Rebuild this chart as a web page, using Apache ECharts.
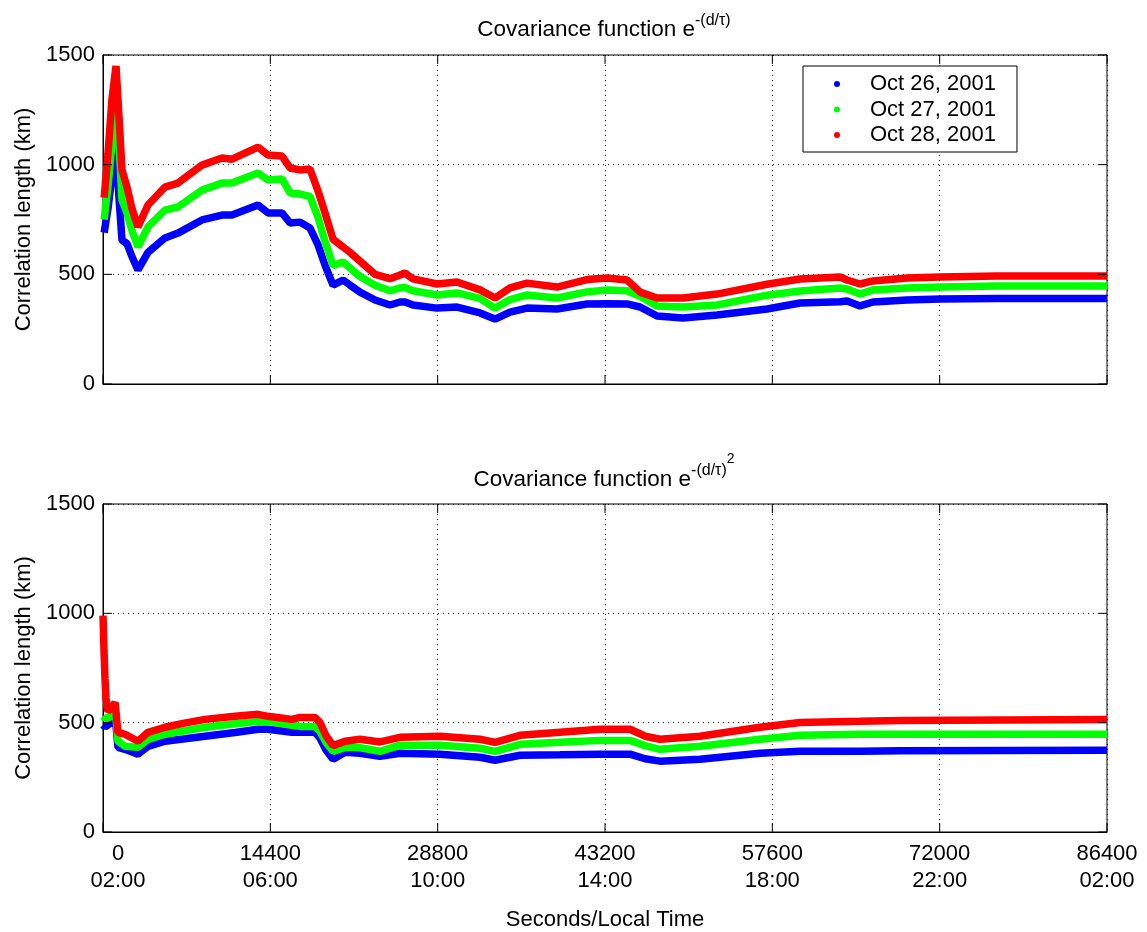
<!DOCTYPE html>
<html>
<head>
<meta charset="utf-8">
<script src="https://cdn.jsdelivr.net/npm/echarts@6/dist/echarts.min.js"></script>
<style>
  html, body { margin: 0; padding: 0; background: #fff; }
  #chart { width: 1147px; height: 932px; }
</style>
</head>
<body>
<div id="chart"></div>
<script>
// Legend names
const seriesNames = ['Oct 26, 2001', 'Oct 27, 2001', 'Oct 28, 2001'];
const seriesColors = ['#0000ff', '#00ff00', '#ff0000'];

// X tick labels: seconds and local time
const secTicks = ['0', '14400', '28800', '43200', '57600', '72000', '86400'];
const timeTicks = ['02:00', '06:00', '10:00', '14:00', '18:00', '22:00', '02:00'];
const xTickValues = [0, 14400, 28800, 43200, 57600, 72000, 86400];
const yTickValues = [0, 500, 1000, 1500];

// Upper panel: covariance e^-(d/tau), time in seconds
const timesExp = [100, 430, 775, 1120, 1375, 1635, 2065, 2495, 3010, 3870, 5335, 6455, 8520, 10240, 11100,
  13340, 14200, 15405, 16095, 16955, 17815, 18505, 19105, 19795, 20655, 21255, 22115, 23410, 24700, 25560,
  25990, 26680, 28745, 30465, 32445, 33735, 35025, 36490, 39070, 41650, 43375, 45095, 46215, 47680, 49915,
  52840, 57145, 59985, 63425, 64030, 65145, 66265, 69190, 72030, 76935, 86400];
const oct26Exp = [690, 800, 950, 1090, 850, 656, 640, 580, 520, 600, 666, 688, 748, 770, 770,
  816, 780, 780, 734, 738, 711, 634, 542, 451, 474, 451, 419, 383, 360, 374,
  374, 360, 346, 351, 324, 296, 328, 346, 342, 365, 366, 365, 351, 310, 301,
  315, 342, 369, 375, 378, 356, 374, 383, 387, 390, 390];
const oct27Exp = [750, 900, 1100, 1295, 1100, 839, 780, 700, 625, 716, 793, 807, 884, 916, 916,
  962, 930, 935, 871, 866, 855, 760, 650, 540, 556, 529, 490, 450, 425, 438,
  440, 425, 406, 415, 390, 346, 385, 406, 392, 420, 429, 425, 400, 356, 351,
  360, 405, 424, 438, 433, 410, 429, 438, 442, 447, 447];
const oct28Exp = [850, 1050, 1300, 1450, 1220, 976, 898, 800, 716, 816, 898, 916, 998, 1030, 1025,
  1080, 1044, 1039, 985, 976, 980, 880, 780, 660, 625, 600, 560, 500, 480, 497,
  506, 479, 456, 465, 429, 392, 438, 460, 442, 476, 483, 474, 419, 392, 392,
  410, 455, 479, 488, 474, 456, 470, 483, 488, 492, 492];

// Lower panel: covariance e^-(d/tau)^2
const timesGauss = [0, 86, 172, 258, 344, 430, 775, 1033, 1291, 1893, 3012, 3873, 5336, 6885, 8778,
  11360, 13339, 14200, 16265, 16954, 18245, 18675, 19194, 19796, 20829, 22117, 23839, 25560, 29002, 32445,
  33736, 35887, 39329, 42772, 45354, 46645, 47936, 51378, 56541, 59984, 65147, 68589, 86400];
const oct26Gauss = [490, 485, 480, 480, 480, 490, 505, 538, 387, 378, 356, 392, 415, 425, 438,
  455, 470, 470, 456, 456, 456, 430, 375, 333, 365, 360, 346, 360, 356, 342,
  328, 351, 353, 356, 356, 335, 324, 333, 360, 369, 369, 372, 374];
const oct27Gauss = [530, 525, 520, 515, 515, 520, 540, 574, 415, 392, 387, 424, 447, 462, 479,
  495, 506, 506, 488, 483, 483, 460, 410, 369, 387, 385, 369, 397, 397, 383,
  369, 401, 410, 419, 419, 395, 378, 392, 424, 442, 447, 447, 447];
const oct28Gauss = [990, 830, 700, 615, 570, 552, 570, 593, 456, 447, 415, 456, 479, 497, 515,
  529, 538, 529, 515, 524, 524, 500, 440, 395, 415, 424, 412, 433, 438, 424,
  410, 442, 456, 470, 470, 438, 424, 438, 479, 501, 506, 510, 515];

const zip = (xs, ys) => xs.map((x, i) => [x, ys[i]]);

const FONT = 'Liberation Sans, Arial, Helvetica, sans-serif';
const X_MAX = 86400, Y_MAX = 1500, TICK_LEN = 9;
const grids = [
  { left: 103, top: 55, width: 1004, height: 329, show: true, borderColor: '#000', borderWidth: 1 },
  { left: 103, top: 504, width: 1004, height: 329, show: true, borderColor: '#000', borderWidth: 1 }
];

const dotted = { type: [1, 4], color: '#000', width: 1 };
const frameLine = { show: true, lineStyle: { color: '#000', width: 1 } };

function xAxis(g, withLabels) {
  return {
    gridIndex: g, type: 'value', min: 0, max: X_MAX, interval: 14400,
    position: 'bottom',
    axisLine: frameLine,
    axisTick: { show: false },
    splitLine: { show: true, lineStyle: dotted },
    axisLabel: withLabels ? {
      show: true, margin: 8, color: '#000', fontFamily: FONT, fontSize: 22, lineHeight: 27,
      formatter: (v) => {
        const i = Math.round(v / 14400);
        const tag = i === 0 ? 'f' : 'n';
        return '{' + tag + '|' + secTicks[i] + '}\n{' + tag + '|' + timeTicks[i] + '}';
      },
      rich: {
        n: { fontSize: 22, lineHeight: 27, fontFamily: FONT, color: '#000' },
        f: { fontSize: 22, lineHeight: 27, fontFamily: FONT, color: '#000', padding: [0, 0, 0, 30] }
      }
    } : { show: false },
    name: withLabels ? 'Seconds/Local Time' : '',
    nameLocation: 'middle',
    nameGap: 77,
    nameTextStyle: { fontFamily: FONT, fontSize: 22, color: '#000' }
  };
}

function yAxis(g) {
  return {
    gridIndex: g, type: 'value', min: 0, max: Y_MAX, interval: 500,
    position: 'left',
    axisLine: frameLine,
    axisTick: { show: false },
    splitLine: { show: true, lineStyle: dotted },
    axisLabel: { show: true, margin: 8, color: '#000', fontFamily: FONT, fontSize: 22,
      formatter: (v) => String(v) },
    name: 'Correlation length (km)',
    nameLocation: 'middle',
    nameGap: 64,
    nameTextStyle: { fontFamily: FONT, fontSize: 22, color: '#000' }
  };
}

// Inward tick marks on all four sides of a panel, placed through the axis scales.
function tickSeries(g) {
  const data = xTickValues.map(v => [v, 0]).concat(yTickValues.map(v => [v, 1]));
  return {
    type: 'custom', xAxisIndex: g, yAxisIndex: g, silent: true, clip: false, z: 5,
    data: data,
    renderItem: (params, api) => {
      const v = api.value(0), kind = api.value(1);
      const st = { stroke: '#000', lineWidth: 1 };
      let a, b;
      if (kind === 0) {
        a = api.coord([v, 0]); b = api.coord([v, Y_MAX]);
        return { type: 'group', children: [
          { type: 'line', shape: { x1: a[0], y1: a[1], x2: a[0], y2: a[1] - TICK_LEN }, style: st },
          { type: 'line', shape: { x1: b[0], y1: b[1], x2: b[0], y2: b[1] + TICK_LEN }, style: st }
        ] };
      }
      a = api.coord([0, v]); b = api.coord([X_MAX, v]);
      return { type: 'group', children: [
        { type: 'line', shape: { x1: a[0], y1: a[1], x2: a[0] + TICK_LEN, y2: a[1] }, style: st },
        { type: 'line', shape: { x1: b[0], y1: b[1], x2: b[0] - TICK_LEN, y2: b[1] }, style: st }
      ] };
    },
    animation: false
  };
}

function line(name, color, data, g) {
  return {
    name: name, type: 'line', data: data,
    xAxisIndex: g, yAxisIndex: g,
    showSymbol: false, symbol: 'circle', symbolSize: 6,
    lineStyle: { color: color, width: 7.5 },
    itemStyle: { color: color },
    emphasis: { disabled: true },
    animation: false
  };
}

const titleRich = {
  a: { fontFamily: FONT, fontSize: 22.5, color: '#000', verticalAlign: 'bottom', lineHeight: 25 },
  s: { fontFamily: FONT, fontSize: 16, color: '#000', verticalAlign: 'bottom', lineHeight: 19, padding: [0, 0, 12, 0] },
  t: { fontFamily: FONT, fontSize: 14, color: '#000', verticalAlign: 'bottom', lineHeight: 16, padding: [0, 0, 25, 0] }
};

const chart = echarts.init(document.getElementById('chart'), null, { renderer: 'canvas' });
chart.setOption({
  animation: false,
  backgroundColor: '#fff',
  grid: grids,
  xAxis: [xAxis(0, false), xAxis(1, true)],
  yAxis: [yAxis(0), yAxis(1)],
  legend: {
    data: seriesNames,
    orient: 'vertical',
    left: 803, top: 66,
    backgroundColor: '#fff',
    borderColor: '#000', borderWidth: 1, borderRadius: 0,
    padding: [7, 21, 6, 31],
    itemGap: 3.5,
    itemWidth: 6, itemHeight: 6,
    icon: 'circle',
    textStyle: { fontFamily: FONT, fontSize: 22, color: '#000', padding: [0, 0, 0, 25] },
    selectedMode: false
  },
  graphic: [
    { type: 'text', x: 604, y: 41, z: 10,
      style: { text: '{a|Covariance function e}{s|-(d/τ)}', rich: titleRich, align: 'center', verticalAlign: 'bottom' } },
    { type: 'text', x: 604, y: 491, z: 10,
      style: { text: '{a|Covariance function e}{s|-(d/τ)}{t|2}', rich: titleRich, align: 'center', verticalAlign: 'bottom' } }
  ],
  series: [
    tickSeries(0), tickSeries(1),
    line(seriesNames[0], seriesColors[0], zip(timesExp, oct26Exp), 0),
    line(seriesNames[1], seriesColors[1], zip(timesExp, oct27Exp), 0),
    line(seriesNames[2], seriesColors[2], zip(timesExp, oct28Exp), 0),
    line(seriesNames[0], seriesColors[0], zip(timesGauss, oct26Gauss), 1),
    line(seriesNames[1], seriesColors[1], zip(timesGauss, oct27Gauss), 1),
    line(seriesNames[2], seriesColors[2], zip(timesGauss, oct28Gauss), 1)
  ]
});
</script>
</body>
</html>
